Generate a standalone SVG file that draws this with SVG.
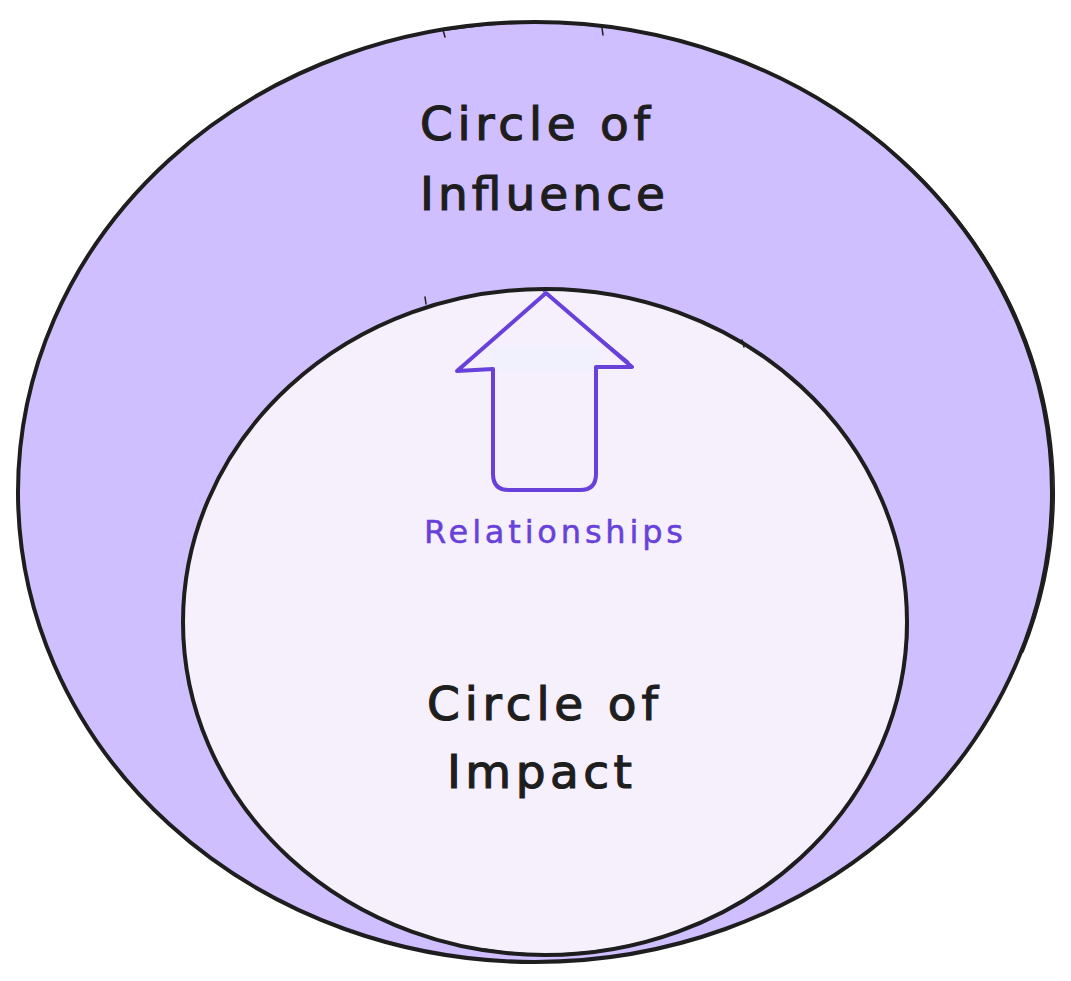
<svg xmlns="http://www.w3.org/2000/svg" width="1071" height="981" viewBox="0 0 1071 981">
<style>
.stroke{fill:none;stroke:#1e1e1e;stroke-linecap:round;stroke-linejoin:round}
.big{font-family:"DejaVu Sans","Liberation Sans",sans-serif;font-size:47px;fill:#1e1e1e;stroke:#1e1e1e;stroke-width:1.2}
.lbl{font-family:"DejaVu Sans","Liberation Sans",sans-serif;font-size:32px;fill:#6741d9;stroke:#6741d9;stroke-width:0.5}
</style>
<rect width="1071" height="981" fill="#ffffff"/>
<g id="outer">
<ellipse cx="535" cy="492" rx="517" ry="470" fill="#d0bfff" stroke="#1e1e1e" stroke-width="4"/>
<path class="stroke" stroke-width="1.5" d="M446,30 A518,469 0 0 1 1023,652"/>
<path class="stroke" stroke-width="1.5" d="M443,30 L445,37 M602,28 L603,35"/>
</g>
<g id="inner">
<ellipse cx="545" cy="622" rx="362" ry="333" fill="#f6effc" stroke="#1e1e1e" stroke-width="4"/>
<path class="stroke" stroke-width="1.5" d="M908,620 A361,334 0 0 1 484,949"/>
<path class="stroke" stroke-width="1.5" d="M425,297 L426,304 M742,340 L744,347"/>
</g>
<g id="arrow">
<rect x="490" y="347" width="110" height="25" fill="#f1f0fd"/>
<path d="M546,293 L632,367 L596,367 L596,474 Q596,490 580,490 L509,490 Q493,490 493,474 L493,369 L457,371 Z" fill="none" stroke="#6741d9" stroke-width="4" stroke-linejoin="round"/>
<path d="M543,291 L629,362" fill="none" stroke="#6741d9" stroke-width="1.5"/>
</g>
<g id="labels">
<text class="big" x="420" y="140" textLength="230" lengthAdjust="spacing">Circle of</text>
<text class="big" x="420" y="210" textLength="245" lengthAdjust="spacing">Influence</text>
<text class="lbl" x="424" y="543" textLength="259" lengthAdjust="spacing">Relationships</text>
<text class="big" x="427" y="720" textLength="231" lengthAdjust="spacing">Circle of</text>
<text class="big" x="447" y="788" textLength="185" lengthAdjust="spacing">Impact</text>
</g>
</svg>
